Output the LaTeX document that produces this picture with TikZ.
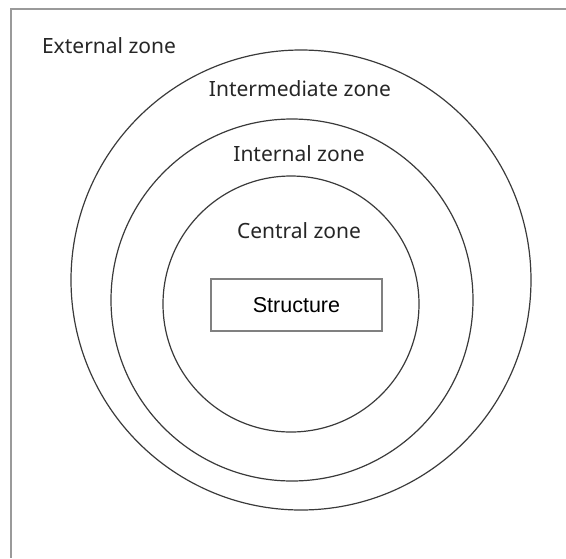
\documentclass[tikz,border=0pt]{standalone}
\usepackage{fontspec}
\setmainfont{Noto Sans}
\newfontfamily\boxfont{Liberation Sans}
\usepackage{xcolor}
\usepackage{tikz}

\definecolor{framegrey}{HTML}{9A9A9A}
\definecolor{ringgrey}{HTML}{3A3A3A}

\tikzset{
  zonelabel/.style={font=\fontsize{21}{25}\selectfont, text=black!85},
  ring/.style={ringgrey, line width=1.2pt},
}

\begin{document}
\begin{tikzpicture}[x=1pt,y=-1pt]
    \useasboundingbox (0,0) rectangle (566,558);
    % frame, only the top and left sides are visible
    \draw[framegrey,line width=2pt] (566,9) -- (11,9) -- (11,558);
    % the three zone rings
    \draw[ring] (301,280) circle (230);
    \draw[ring] (292,300) circle (181);
    \draw[ring] (291,304) circle (128);
    \node[zonelabel] (external) at (109,46) {External zone};
    \node[zonelabel] (intermediate) at (300,89) {Intermediate zone};
    \node[zonelabel] (internal) at (299,154) {Internal zone};
    \node[zonelabel] (central) at (299,231) {Central zone};
    \node[draw=gray,line width=1.3pt,minimum width=171pt,minimum height=52pt,
          font=\boxfont\fontsize{21.5}{25}\selectfont] (structure) at (296.5,305) {Structure};
  \end{tikzpicture}
\end{document}
